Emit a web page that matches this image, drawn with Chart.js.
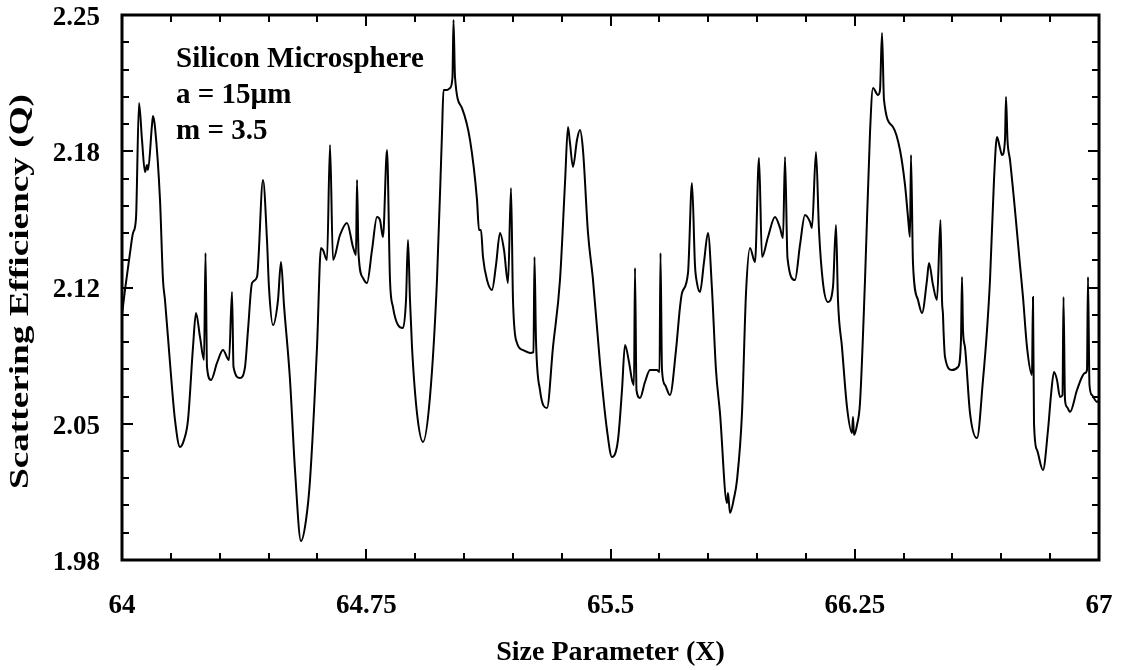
<!DOCTYPE html>
<html>
<head>
<meta charset="utf-8">
<title>Scattering Efficiency</title>
<script src="https://cdn.jsdelivr.net/npm/chart.js@4.4.1/dist/chart.umd.min.js"></script>
<style>
  html, body { margin: 0; padding: 0; background: #fff; }
  canvas { display: block; }
</style>
</head>
<body>
<canvas id="mie" width="1121" height="670"></canvas>
<script>
// size parameter X and scattering efficiency Q
let xValues = [
  64.0000, 64.0092, 64.0246, 64.0338, 64.0430, 64.0522, 64.0614, 64.0706, 64.0768, 64.0798,
  64.0921, 64.0952, 64.1013, 64.1167, 64.1259, 64.1320, 64.1474, 64.1627, 64.1781, 64.1904,
  64.2027, 64.2180, 64.2272, 64.2395, 64.2518, 64.2564, 64.2610, 64.2733, 64.2917, 64.3101,
  64.3286, 64.3378, 64.3424, 64.3623, 64.3777, 64.3869, 64.3992, 64.4145, 64.4330, 64.4452,
  64.4514, 64.4637, 64.4790, 64.4882, 64.4974, 64.5159, 64.5312, 64.5496, 64.5650, 64.5773,
  64.5988, 64.6110, 64.6172, 64.6295, 64.6387, 64.6479, 64.6694, 64.6909, 64.7093, 64.7185,
  64.7216, 64.7262, 64.7400, 64.7523, 64.7677, 64.7830, 64.7922, 64.8014, 64.8137, 64.8229,
  64.8321, 64.8475, 64.8628, 64.8721, 64.8782, 64.8843, 64.8905, 64.9058, 64.9243, 64.9457,
  64.9672, 64.9826, 64.9872, 64.9979, 65.0072, 65.0148, 65.0179, 65.0225, 65.0440, 65.0686,
  65.0901, 65.0962, 65.1023, 65.1085, 65.1208, 65.1361, 65.1484, 65.1607, 65.1730, 65.1853,
  65.1945, 65.2006, 65.2129, 65.2313, 65.2528, 65.2635, 65.2666, 65.2712, 65.2835, 65.3050,
  65.3234, 65.3449, 65.3603, 65.3695, 65.3756, 65.3848, 65.3971, 65.4063, 65.4155, 65.4309,
  65.4463, 65.4677, 65.4892, 65.5046, 65.5230, 65.5353, 65.5445, 65.5568, 65.5660, 65.5721,
  65.5752, 65.5798, 65.5906, 65.6059, 65.6213, 65.6428, 65.6505, 65.6535, 65.6581, 65.6673,
  65.6827, 65.7011, 65.7134, 65.7195, 65.7380, 65.7502, 65.7594, 65.7656, 65.7748, 65.7871,
  65.7994, 65.8117, 65.8239, 65.8362, 65.8577, 65.8608, 65.8669, 65.8792, 65.8884, 65.9038,
  65.9161, 65.9283, 65.9437, 65.9560, 65.9652, 65.9836, 66.0051, 66.0205, 66.0297, 66.0358,
  66.0435, 66.0665, 66.0819, 66.0972, 66.1126, 66.1187, 66.1310, 66.1402, 66.1525, 66.1678,
  66.1832, 66.1924, 66.1985, 66.2108, 66.2262, 66.2415, 66.2446, 66.2477, 66.2569, 66.2661,
  66.2815, 66.2968, 66.3060, 66.3214, 66.3275, 66.3337, 66.3398, 66.3674, 66.3889, 66.4043,
  66.4135, 66.4196, 66.4227, 66.4288, 66.4442, 66.4565, 66.4718, 66.4780, 66.4903, 66.5025,
  66.5133, 66.5179, 66.5210, 66.5225, 66.5271, 66.5486, 66.5670, 66.5762, 66.5793, 66.5824,
  66.5885, 66.6039, 66.6254, 66.6438, 66.6561, 66.6653, 66.6776, 66.6868, 66.6960, 66.7021,
  66.7113, 66.7144, 66.7190, 66.7267, 66.7420, 66.7574, 66.7666, 66.7789, 66.7942, 66.7973,
  66.8004, 66.8096, 66.8280, 66.8434, 66.8526, 66.8618, 66.8710, 66.8802, 66.8879, 66.8910,
  66.8956, 66.9017, 66.9109, 66.9324, 66.9478, 66.9570, 66.9631, 66.9662, 66.9708, 66.9785,
  66.9938, 67.0000
];

let qValues = [
  2.1014, 2.1138, 2.1321, 2.1420, 2.1494, 2.2064, 2.1881, 2.1722, 2.1757, 2.1732,
  2.1955, 2.2000, 2.1945, 2.1584, 2.1187, 2.1088, 2.0776, 2.0494, 2.0360, 2.0395,
  2.0494, 2.0855, 2.1024, 2.0905, 2.0791, 2.1321, 2.0756, 2.0692, 2.0776, 2.0840,
  2.0791, 2.1128, 2.0756, 2.0702, 2.0756, 2.0939, 2.1172, 2.1202, 2.1683, 2.1385,
  2.1148, 2.0964, 2.1088, 2.1276, 2.1063, 2.0692, 2.0246, 1.9894, 1.9998, 2.0196,
  2.0855, 2.1346, 2.1336, 2.1286, 2.1856, 2.1286, 2.1410, 2.1470, 2.1351, 2.1311,
  2.1683, 2.1321, 2.1197, 2.1172, 2.1336, 2.1499, 2.1484, 2.1400, 2.1831, 2.1187,
  2.1053, 2.0964, 2.0949, 2.1088, 2.1385, 2.1088, 2.0855, 2.0528, 2.0385, 2.0608,
  2.1187, 2.1915, 2.2128, 2.2128, 2.2138, 2.2193, 2.2475, 2.2193, 2.2039, 2.1881,
  2.1584, 2.1435, 2.1435, 2.1301, 2.1187, 2.1138, 2.1261, 2.1420, 2.1336, 2.1172,
  2.1643, 2.1088, 2.0875, 2.0840, 2.0826, 2.0830, 2.1301, 2.0890, 2.0642, 2.0553,
  2.0855, 2.1187, 2.1668, 2.1945, 2.1866, 2.1747, 2.1881, 2.1930, 2.1831, 2.1420,
  2.1187, 2.0776, 2.0444, 2.0310, 2.0395, 2.0642, 2.0865, 2.0781, 2.0692, 2.0667,
  2.1247, 2.0642, 2.0603, 2.0682, 2.0741, 2.0741, 2.0731, 2.1321, 2.0741, 2.0667,
  2.0617, 2.0840, 2.1053, 2.1123, 2.1222, 2.1668, 2.1261, 2.1172, 2.1128, 2.1276,
  2.1420, 2.1138, 2.0741, 2.0528, 2.0082, 2.0132, 2.0033, 2.0107, 2.0196, 2.0528,
  2.1123, 2.1346, 2.1276, 2.1792, 2.1301, 2.1400, 2.1499, 2.1445, 2.1395, 2.1797,
  2.1296, 2.1187, 2.1361, 2.1509, 2.1475, 2.1445, 2.1821, 2.1435, 2.1172, 2.1078,
  2.1153, 2.1460, 2.1088, 2.0855, 2.0558, 2.0429, 2.0508, 2.0419, 2.0469, 2.0578,
  2.1187, 2.1915, 2.2138, 2.2104, 2.2128, 2.2411, 2.2079, 2.1945, 2.1831, 2.1658,
  2.1499, 2.1400, 2.1806, 2.1271, 2.1088, 2.1024, 2.1187, 2.1271, 2.1162, 2.1088,
  2.1484, 2.1088, 2.1014, 2.0939, 2.0806, 2.0741, 2.0756, 2.0890, 2.1202, 2.0939,
  2.0855, 2.0528, 2.0404, 2.0692, 2.0939, 2.1187, 2.1683, 2.1896, 2.1841, 2.1806,
  2.1881, 2.2094, 2.1881, 2.1782, 2.1534, 2.1261, 2.1103, 2.0855, 2.0717, 2.1103,
  2.0479, 2.0345, 2.0246, 2.0444, 2.0617, 2.0731, 2.0692, 2.0608, 2.0617, 2.1103,
  2.0593, 2.0558, 2.0533, 2.0642, 2.0707, 2.0726, 2.0741, 2.1202, 2.0667, 2.0617,
  2.0583, 2.0593
];

let xTickValues = [64, 64.75, 65.5, 66.25, 67];
let xTickLabels = ['64', '64.75', '65.5', '66.25', '67'];
let yTickValues = [1.98, 2.0475, 2.115, 2.1825, 2.25];
let yTickLabels = ['1.98', '2.05', '2.12', '2.18', '2.25'];

let noteLines = ['Silicon Microsphere', 'a = 15\u00b5m', 'm = 3.5'];
let yTitle = 'Scattering Efficiency (Q)';

const SERIF = '"Liberation Serif", "Times New Roman", Times, serif';

function fixedTicks(values) {
    return scale => { scale.ticks = values.map(v => ({ value: v })); };
}

// inward major/minor ticks on all four sides, the heavy frame and the texts
const frameTicks = {
    id: 'frameTicks',
    afterDatasetsDraw(chart) {
        let { ctx, chartArea: a, scales: { x, y } } = chart;
        ctx.save();
        ctx.strokeStyle = '#000';
        ctx.lineWidth = 2;
        ctx.beginPath();
        let xStep = (xTickValues[1] - xTickValues[0]) / 5;
        for (let i = 1; i < 20; i++) {
            let px = Math.round(x.getPixelForValue(xTickValues[0] + i * xStep));
            let len = i % 5 === 0 ? 11 : 7;
            ctx.moveTo(px, a.bottom); ctx.lineTo(px, a.bottom - len);
            ctx.moveTo(px, a.top); ctx.lineTo(px, a.top + len);
        }
        let yStep = (yTickValues[1] - yTickValues[0]) / 5;
        for (let i = 1; i < 20; i++) {
            let py = Math.round(y.getPixelForValue(yTickValues[0] + i * yStep));
            let len = i % 5 === 0 ? 11 : 7;
            ctx.moveTo(a.left, py); ctx.lineTo(a.left + len, py);
            ctx.moveTo(a.right, py); ctx.lineTo(a.right - len, py);
        }
        ctx.stroke();
        ctx.lineWidth = 3;
        ctx.strokeRect(a.left, a.top, a.right - a.left, a.bottom - a.top);

        // sample description in the upper left corner
        ctx.fillStyle = '#000';
        ctx.font = 'bold 29px ' + SERIF;
        ctx.textAlign = 'left';
        ctx.textBaseline = 'alphabetic';
        noteLines.forEach((line, i) => {
            ctx.fillText(line, a.left + 54, a.top + 52 + i * 36);
        });

        // y axis title, a little stretched along its length
        ctx.font = 'bold 28px ' + SERIF;
        ctx.textAlign = 'center';
        ctx.textBaseline = 'middle';
        ctx.translate(21, (a.top + a.bottom) / 2 + 4);
        ctx.rotate(-Math.PI / 2);
        ctx.scale(1.33, 1);
        ctx.fillText(yTitle, 0, 0);
        ctx.restore();
    }
};

let points = xValues.map((v, i) => ({ x: v, y: qValues[i] }));

new Chart(document.getElementById('mie'), {
    type: 'line',
    data: {
        datasets: [{
            label: 'Q',
            data: points,
            borderColor: '#000',
            borderWidth: 2,
            pointRadius: 0,
            fill: false,
            cubicInterpolationMode: 'monotone'
        }]
    },
    options: {
        responsive: false,
        animation: false,
        layout: { padding: { top: 15, right: 22, left: 0, bottom: 0 } },
        plugins: { legend: { display: false }, tooltip: { enabled: false } },
        scales: {
            x: {
                type: 'linear',
                min: 64,
                max: 67,
                afterBuildTicks: fixedTicks(xTickValues),
                afterFit: scale => {
                    scale.height = 110;
                    scale.paddingLeft = 0;
                    scale.paddingRight = 0;
                },
                grid: { display: false, drawTicks: false },
                border: { display: false },
                ticks: {
                    color: '#000',
                    padding: 30,
                    maxRotation: 0,
                    font: { family: SERIF, size: 27, weight: 'bold' },
                    callback: v => xTickLabels[xTickValues.indexOf(v)]
                },
                title: {
                    display: true,
                    text: 'Size Parameter (X)',
                    color: '#000',
                    padding: { top: 0, bottom: 0 },
                    font: { family: SERIF, size: 28, weight: 'bold' }
                }
            },
            y: {
                min: 1.98,
                max: 2.25,
                afterBuildTicks: fixedTicks(yTickValues),
                afterFit: scale => {
                    scale.width = 122;
                    scale.paddingTop = 0;
                    scale.paddingBottom = 0;
                },
                grid: { display: false, drawTicks: false },
                border: { display: false },
                ticks: {
                    color: '#000',
                    padding: 22,
                    labelOffset: 3,
                    font: { family: SERIF, size: 27, weight: 'bold', lineHeight: 1 },
                    callback: v => yTickLabels[yTickValues.indexOf(v)]
                },
                title: { display: false }
            }
        }
    },
    plugins: [frameTicks]
});
</script>
</body>
</html>
